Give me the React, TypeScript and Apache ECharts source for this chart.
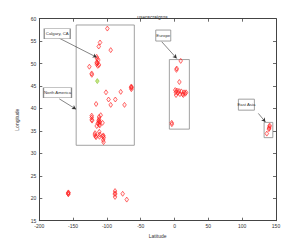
import React, { useEffect, useRef } from "react";
import * as echarts from "echarts";

const titleText = "user=craigros";
const xName = "Latitude";
const yName = "Longitude";

// North America points (x = longitude, y = latitude)
const naX = [-99.4, -110.2, -112.1, -94.4, -115.1, -114.5, -112.7, -115.1, -115.1, -111.7, -114.0, -113.5, -126.0, -122.5, -122.3,
  -63.9, -63.6, -63.9, -64.2, -101.4, -79.6, -97.6, -87.6, -94.4, -74.0, -116.0,
  -122.5, -122.5, -122.3, -122.0, -111.7, -111.5, -111.9, -111.3, -110.8, -109.2, -112.2, -110.5, -106.5, -113.6, -115.1,
  -117.6, -117.9, -116.6, -116.1, -111.3, -110.6, -111.0, -105.3, -104.8, -105.5, -105.0, -105.8];
const naY = [57.8, 54.7, 53.8, 53.0, 51.5, 51.1, 50.8, 50.3, 49.9, 49.7, 50.1, 49.5, 49.3, 47.8, 47.5,
  44.9, 44.6, 44.3, 44.7, 43.6, 43.7, 42.0, 42.0, 40.8, 40.8, 41.0,
  38.4, 38.0, 37.5, 37.3, 38.1, 37.6, 37.0, 36.5, 36.2, 38.5, 37.3, 37.0, 36.8, 36.7, 36.1,
  34.5, 34.1, 33.8, 33.6, 34.8, 34.2, 33.7, 34.0, 33.5, 33.0, 32.5, 33.8];
// Hawaii / Caribbean
const southX = [-157.2, -157.0, -157.3, -156.9, -88.0, -88.0, -88.1, -88.0, -76.7, -70.7];
const southY = [21.2, 20.9, 21.0, 21.3, 21.6, 21.1, 20.9, 20.3, 21.0, 19.7];
// Europe
const euX = [9.1, 3.2, 2.8, 7.1, 1.0, 2.0, 3.5, 5.0, 6.5, 8.0, 10.0, 12.0, 14.0, 16.0, 17.0, 13.0, 2.2, -4.2, -4.0];
const euY = [50.6, 48.9, 48.6, 45.9, 44.1, 43.6, 44.0, 43.5, 43.9, 43.2, 43.8, 43.2, 43.6, 43.3, 43.6, 43.0, 43.0, 36.8, 36.5];
// East Asia
const asX = [140.3, 140.6, 139.8, 136.4, 139.5];
const asY = [35.9, 36.2, 35.6, 34.4, 35.4];
// Highlighted point
const greenX = [-114.2];
const greenY = [46.1];

// Region rectangles [x1, y1, x2, y2]
const regionRects = [
  [-145.5, 58.6, -59.5, 31.8],
  [-7.7, 50.9, 21.9, 35.4],
  [132.4, 36.9, 145.3, 33.5],
];
// Text boxes: name, centre x, centre y, width, height
const boxNames = ["Calgary, CA", "North America", "Europe", "East Asia"];
const boxX = [-173.5, -173.1, -16.7, 106.2];
const boxY = [56.65, 43.5, 56.25, 40.85];
const boxW = [26, 28, 15, 16];
const boxH = [10, 10, 11, 11];
// Arrows [x1, y1, x2, y2]
const arrows = [
  [-171.9, 55.76, -115.1, 51.4],
  [-170.4, 42.14, -145.7, 39.84],
  [-19.0, 54.87, 3.2, 51.16],
  [123.9, 38.9, 134.3, 37.0],
];

const zip = (xs: number[], ys: number[]) => xs.map((x, i) => [x, ys[i]]);

export default function App() {
  const ref = useRef<HTMLDivElement>(null);
  useEffect(() => {
    if (!ref.current) return;
    const chart = echarts.init(ref.current, null, { renderer: "svg" });
    const font = "Liberation Sans";
    const axisCommon = {
      axisLine: { show: true, onZero: false, lineStyle: { color: "#444", width: 1 } },
      axisTick: { show: true, inside: true, length: 3, lineStyle: { color: "#444", width: 0.8 } },
      splitLine: { show: false },
    };
    const redStyle = { color: "rgba(255,0,0,0.08)", borderColor: "#ff1a1a", borderWidth: 0.8 };
    chart.setOption({
      animation: false,
      backgroundColor: "#fff",
      title: {
        text: titleText,
        left: "center",
        top: 9,
        textStyle: { fontSize: 5, fontWeight: "normal", color: "#333", fontFamily: font },
      },
      grid: { left: 39.3, right: 29, top: 18.7, bottom: 28.3 },
      xAxis: [
        {
          type: "value", min: -200, max: 150, interval: 50, position: "bottom",
          name: xName, nameLocation: "middle", nameGap: 10,
          nameTextStyle: { fontSize: 5, color: "#333", fontFamily: font },
          axisLabel: { fontSize: 5, color: "#333", margin: 3, fontFamily: font },
          ...axisCommon,
        },
        {
          type: "value", min: -200, max: 150, interval: 50, position: "top",
          axisLabel: { show: false }, ...axisCommon,
        },
      ],
      yAxis: [
        {
          type: "value", min: 15, max: 60, interval: 5, position: "left",
          name: yName, nameLocation: "middle", nameGap: 9,
          nameTextStyle: { fontSize: 5, color: "#333", fontFamily: font },
          axisLabel: { fontSize: 5, color: "#333", margin: 3, fontFamily: font },
          ...axisCommon,
        },
        {
          type: "value", min: 15, max: 60, interval: 5, position: "right",
          axisLabel: { show: false }, ...axisCommon,
        },
      ],
      series: [
        {
          type: "scatter",
          symbol: "diamond",
          symbolSize: [3.6, 5],
          itemStyle: redStyle,
          data: [...zip(naX, naY), ...zip(southX, southY), ...zip(euX, euY), ...zip(asX, asY)],
          markArea: {
            silent: true,
            itemStyle: { color: "rgba(0,0,0,0)", borderColor: "#8a8a8a", borderWidth: 0.8 },
            label: { show: false },
            data: regionRects.map((r) => [{ coord: [r[0], r[1]] }, { coord: [r[2], r[3]] }]),
          },
          markLine: {
            silent: true,
            symbol: ["none", "arrow"],
            symbolSize: [3.5, 4],
            lineStyle: { color: "#333", width: 0.6, type: "solid" },
            label: { show: false },
            data: arrows.map((a) => [{ coord: [a[0], a[1]] }, { coord: [a[2], a[3]] }]),
          },
          markPoint: {
            silent: true,
            symbol: "rect",
            itemStyle: { color: "#fff", borderColor: "#8a8a8a", borderWidth: 0.8 },
            label: { show: true, position: "inside", fontSize: 4.3, color: "#333", fontFamily: font, formatter: "{b}" },
            data: boxNames.map((n, i) => ({ name: n, coord: [boxX[i], boxY[i]], symbolSize: [boxW[i], boxH[i]] })),
          },
        },
        {
          type: "scatter",
          symbol: "diamond",
          symbolSize: [3.6, 5],
          itemStyle: { color: "#b8e060", borderColor: "#8cc63f", borderWidth: 0.8 },
          data: zip(greenX, greenY),
        },
      ],
    });
    return () => chart.dispose();
  }, []);
  return <div ref={ref} style={{ position: "absolute", left: 0, top: 0, width: 305, height: 249 }} />;
}
